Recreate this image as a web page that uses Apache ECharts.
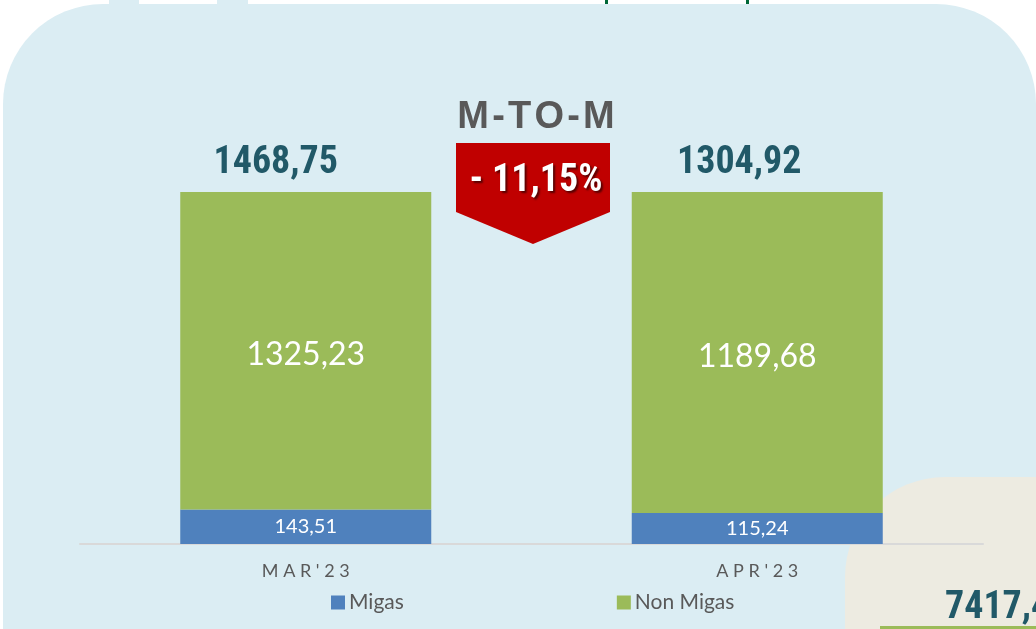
<!DOCTYPE html>
<html>
<head>
<meta charset="utf-8">
<script src="https://cdn.jsdelivr.net/npm/echarts@6/dist/echarts.min.js"></script>
<style>
  html, body { margin: 0; padding: 0; background: #fff; }
  #chart { width: 1036px; height: 629px; }
</style>
</head>
<body>
<div id="chart"></div>
<script>
// data
const months = ["MAR'23", "APR'23"];
const migas = [143.51, 115.24];
const nonMigas = [1325.23, 1189.68];
const totals = [1468.75, 1304.92];
const changeText = '- 11,15%';

const TEAL = '#215968';
const GRAY = '#595959';
const NARROW = "'Liberation Sans Narrow', 'Roboto Condensed', 'Liberation Sans', sans-serif";
const BODY = "Lato, 'Open Sans', sans-serif";

const fmt = v => v.toFixed(2).replace('.', ',');
// 100% stacked: each bar is drawn as share of its month total
const pct = arr => arr.map((v, i) => v / totals[i] * 100);

const chart = echarts.init(document.getElementById('chart'));

const option = {
  backgroundColor: '#ffffff',
  animation: false,
  grid: { left: 80, right: 53, top: 192, bottom: 85 },
  legend: {
    data: ['Migas', 'Non Migas'],
    left: 326,
    top: 587,
    icon: 'rect',
    itemWidth: 14,
    itemHeight: 14,
    itemGap: 213,
    textStyle: { color: GRAY, fontSize: 21, fontFamily: BODY, padding: [0, 0, 0, -1] }
  },
  xAxis: {
    type: 'category',
    data: months,
    axisTick: { show: false },
    axisLine: { lineStyle: { color: '#D9D9D9', width: 2 } },
    axisLabel: {
      color: GRAY,
      fontSize: 18,
      fontFamily: BODY,
      margin: 18,
      formatter: v => v.split('').join(' ')
    }
  },
  yAxis: {
    type: 'value',
    min: 0,
    max: 100,
    show: false,
    splitLine: { show: false }
  },
  series: [
    {
      name: 'Migas',
      type: 'bar',
      stack: 'total',
      barWidth: 251,
      itemStyle: { color: '#4F81BD' },
      label: {
        show: true,
        position: 'inside',
        color: '#fff',
        fontSize: 20,
        fontFamily: BODY,
        formatter: p => fmt(migas[p.dataIndex])
      },
      data: pct(migas)
    },
    {
      name: 'Non Migas',
      type: 'bar',
      stack: 'total',
      barWidth: 251,
      itemStyle: { color: '#9BBB59' },
      label: {
        show: true,
        position: 'inside',
        color: '#fff',
        fontSize: 32,
        fontFamily: BODY,
        offset: [0, 4],
        formatter: p => fmt(nonMigas[p.dataIndex])
      },
      data: pct(nonMigas)
    },
    {
      // month totals sitting above the bars
      name: 'Total',
      type: 'scatter',
      symbolSize: 0,
      silent: true,
      z: 5,
      itemStyle: { opacity: 1 },
      label: {
        show: true,
        position: 'top',
        distance: 10,
        color: TEAL,
        fontSize: 38,
        fontWeight: 'bold',
        fontFamily: NARROW,
        formatter: p => fmt(totals[p.dataIndex])
      },
      data: [
        { value: 100, label: { offset: [-30, 0] } },
        { value: 100, label: { offset: [-18, 0] } }
      ]
    }
  ],
  graphic: [
    // light blue panel
    { type: 'rect', z: -10, shape: { x: 3, y: 4, width: 1033, height: 760, r: 100 }, style: { fill: '#DBEDF3' } },
    { type: 'rect', z: -10, shape: { x: 109, y: 0, width: 30, height: 6 }, style: { fill: '#DBEDF3' } },
    { type: 'rect', z: -10, shape: { x: 217, y: 0, width: 31, height: 6 }, style: { fill: '#DBEDF3' } },
    { type: 'rect', z: -10, shape: { x: 605, y: 0, width: 3, height: 4 }, style: { fill: '#006838' } },
    { type: 'rect', z: -10, shape: { x: 746, y: 0, width: 3, height: 4 }, style: { fill: '#006838' } },
    // beige panel bottom right
    { type: 'rect', z: -9, shape: { x: 845, y: 477, width: 400, height: 400, r: 100 }, style: { fill: '#EDEBE1' } },
    { type: 'rect', z: -8, shape: { x: 880, y: 626, width: 200, height: 4 }, style: { fill: '#9BBB59' } },
    {
      type: 'text', z: -8, x: 945, y: 589,
      style: { text: '7417,4', fill: TEAL, font: 'bold 38px ' + NARROW }
    },
    // M-TO-M badge
    {
      type: 'text', z: 10, x: 536, y: 99,
      style: { text: 'M\u200A-\u200AT\u200AO\u200A-\u200AM', fill: GRAY, font: 'bold 38px ' + "'Liberation Sans', Arial, sans-serif", textAlign: 'center' }
    },
    {
      type: 'polygon', z: 10,
      shape: { points: [[456, 143], [610, 143], [610, 212], [533, 244], [456, 212]] },
      style: { fill: '#C00000' }
    },
    {
      type: 'text', z: 11, x: 536, y: 162,
      style: {
        text: changeText, fill: '#fff', font: 'bold 38px ' + NARROW, textAlign: 'center',
        textShadowColor: 'rgba(0,0,0,0.55)', textShadowOffsetX: 2, textShadowOffsetY: 2, textShadowBlur: 2
      }
    }
  ]
};

chart.setOption(option);
</script>
</body>
</html>
